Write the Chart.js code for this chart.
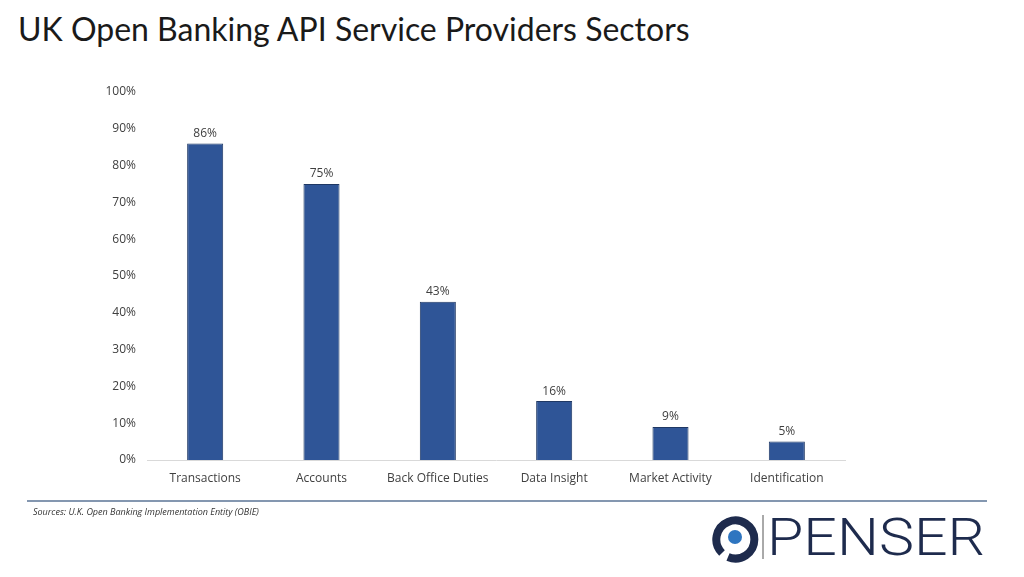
<!DOCTYPE html>
<html>
<head>
    <title>UK Open Banking API Service Providers Sectors</title>
    <style>
        body { margin: 0; background: #fff; width: 1024px; height: 577px; overflow: hidden; position: relative; }
        #title {
            position: absolute; left: 18px; top: 9px;
            font-family: Lato, "Open Sans", sans-serif; font-size: 32px; color: #1a1a1a;
            white-space: nowrap;
        }
        #chart { position: absolute; left: 0; top: 0; }
        #rule { position: absolute; left: 27px; top: 500px; width: 960px; height: 2px; background: #8497b0; }
        #source {
            position: absolute; left: 33px; top: 505px;
            font-family: "Open Sans", sans-serif; font-style: italic; font-size: 9px; color: #333;
        }
        #logo { position: absolute; left: 710px; top: 512px; }
    </style>
</head>
<body>
    <div id="title">UK Open Banking API Service Providers Sectors</div>
    <canvas id="chart" width="1024" height="577"></canvas>
    <div id="rule"></div>
    <div id="source">Sources: U.K. Open Banking Implementation Entity (OBIE)</div>
    <svg id="logo" width="290" height="52">
        <!-- ring with a gap at lower left -->
        <path d="M 12 41 A 19 19 0 1 1 18 45" fill="none" stroke="#1e2b4d" stroke-width="8"/>
        <circle cx="25" cy="25" r="7" fill="#2e75c0"/>
        <line x1="53" y1="3" x2="53" y2="47" stroke="#555" stroke-width="1"/>
        <text x="57" y="43" font-family="Roboto, sans-serif" font-weight="300" font-size="52" fill="#1e2b4d" textLength="218" lengthAdjust="spacingAndGlyphs">PENSER</text>
    </svg>

    <script src="https://cdn.jsdelivr.net/npm/chart.js"></script>
    <script>
        const categories = ['Transactions', 'Accounts', 'Back Office Duties', 'Data Insight', 'Market Activity', 'Identification'];
        const shares = [86, 75, 43, 16, 9, 5]; // percent
        const yTicks = [0, 10, 20, 30, 40, 50, 60, 70, 80, 90, 100];

        // value labels above each bar
        const barLabels = {
            id: 'barLabels',
            afterDatasetsDraw(chart) {
                const ctx = chart.ctx;
                const meta = chart.getDatasetMeta(0);
                ctx.save();
                ctx.font = '12px "Open Sans", sans-serif';
                ctx.fillStyle = '#404040';
                ctx.textAlign = 'center';
                ctx.textBaseline = 'bottom';
                meta.data.forEach((bar, i) => {
                    ctx.fillText(shares[i] + '%', bar.x, bar.y - 4);
                });
                ctx.restore();
            }
        };

        new Chart(document.getElementById('chart'), {
            type: 'bar',
            data: {
                labels: categories,
                datasets: [{
                    data: shares,
                    backgroundColor: '#2f5597',
                    borderColor: '#1f3864',
                    borderWidth: 1,
                    barPercentage: 0.62,
                    categoryPercentage: 0.5
                }]
            },
            options: {
                responsive: false,
                animation: false,
                layout: { padding: { left: 90, right: 179, top: 92, bottom: 87 } },
                plugins: { legend: { display: false }, tooltip: { enabled: false } },
                scales: {
                    x: {
                        grid: { display: false, drawTicks: false },
                        border: { display: true, color: '#d9d9d9', width: 1 },
                        ticks: { color: '#404040', font: { family: '"Open Sans", sans-serif', size: 12 }, padding: 11 },
                        afterFit(axis) { axis.height = 30; }
                    },
                    y: {
                        min: 0, max: 100,
                        afterBuildTicks(axis) { axis.ticks = yTicks.map(v => ({ value: v })); },
                        grid: { display: false, drawTicks: false },
                        border: { display: false },
                        ticks: {
                            color: '#404040',
                            font: { family: '"Open Sans", sans-serif', size: 12 },
                            padding: 11,
                            callback: v => v + '%'
                        },
                        afterFit(axis) { axis.width = 57; }
                    }
                }
            },
            plugins: [barLabels]
        });
    </script>
</body>
</html>
